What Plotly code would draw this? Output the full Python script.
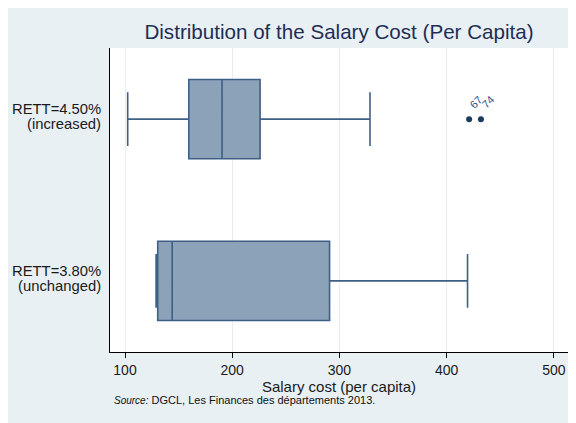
import plotly.graph_objects as go

# ---- data ----
categories = ["RETT=4.50%|(increased)", "RETT=3.80%|(unchanged)"]
lower_whisker = [102.5, 129.0]
q1_values = [159.5, 130.5]
median_values = [190.5, 144.0]
q3_values = [226.0, 290.8]
upper_whisker = [328.5, 419.5]
outlier_values = [421.0, 432.0]
outlier_labels = ["67", "74"]
outlier_category = categories[0]
x_tick_values = [100, 200, 300, 400, 500]

BOX_FILL = "#8ca2b8"
BOX_LINE = "#3e5f86"
NAVY = "#1e2e55"

# page body margin offsets the figure by 8px
OFF = 8
W, H = 576 - OFF, 423 - OFF
L, T = 110 - OFF, 48 - OFF
R = W - (568 - OFF)
B = H - (352 - OFF)
pw, ph = W - L - R, H - T - B

fig = go.Figure()
fig.add_trace(go.Box(
    y=categories,
    lowerfence=lower_whisker,
    q1=q1_values,
    median=median_values,
    q3=q3_values,
    upperfence=upper_whisker,
    orientation="h",
    fillcolor=BOX_FILL,
    line=dict(color=BOX_LINE, width=1.6),
    width=0.49,
    whiskerwidth=0.68,
    boxpoints=False,
    hoverinfo="skip",
    showlegend=False,
))
fig.add_trace(go.Scatter(
    x=outlier_values,
    y=[outlier_category] * len(outlier_values),
    mode="markers",
    marker=dict(color="#1c3a5e", size=6),
    showlegend=False,
    hoverinfo="skip",
))

# outlier labels
for xv, lab in zip(outlier_values, outlier_labels):
    fig.add_annotation(x=xv, y=outlier_category, text=lab, showarrow=False,
                       textangle=-45, xshift=7, yshift=17,
                       font=dict(family="Liberation Sans", size=11, color="#2c4f91"))

# category labels (right aligned two-line)
for cat in categories:
    l1, l2 = cat.split("|")
    fig.add_annotation(x=-7 / pw, xref="paper", y=cat, yref="y", text=l1,
                       showarrow=False, xanchor="right", yanchor="middle", yshift=10,
                       font=dict(family="Liberation Sans", size=14.8, color="#1a1a1a"))
    fig.add_annotation(x=-7 / pw, xref="paper", y=cat, yref="y", text=l2,
                       showarrow=False, xanchor="right", yanchor="middle", yshift=-5,
                       font=dict(family="Liberation Sans", size=14.8, color="#1a1a1a"))

# source note
fig.add_annotation(x=(112 - 110) / pw, xref="paper", y=(352 - 400) / ph, yref="paper",
                   text="<i><span style='font-size:10px'>Source:</span></i> DGCL, Les Finances des départements 2013.",
                   showarrow=False, xanchor="left", yanchor="middle",
                   font=dict(family="Liberation Sans", size=11, color="#111111"))

fig.update_layout(
    width=W, height=H,
    margin=dict(l=L, r=R, t=T, b=B),
    paper_bgcolor="#e9f0f3",
    plot_bgcolor="white",
    title=dict(text="Distribution of the Salary Cost (Per Capita)",
               x=(L + pw / 2) / W, xanchor="center", y=1 - (32 - OFF) / H, yanchor="middle",
               font=dict(family="Liberation Sans", size=20.6, color=NAVY)),
    font=dict(family="Liberation Sans", color="#1a1a1a"),
    xaxis=dict(
        range=[86.0, 513.2],
        tickvals=x_tick_values,
        ticks="outside", ticklen=5, tickcolor="black", tickwidth=1,
        showline=True, linecolor="black", linewidth=1.3,
        showgrid=True, gridcolor="#e6eef2", gridwidth=1,
        zeroline=False,
        tickfont=dict(size=14, color="#1a1a1a"),
        title=dict(text="Salary cost (per capita)", standoff=1,
                   font=dict(size=15, color="#1a1a1a")),
    ),
    yaxis=dict(
        categoryorder="array", categoryarray=categories,
        range=[1.44, -0.44],
        showticklabels=False, ticks="",
        showline=True, linecolor="black", linewidth=1.3,
        showgrid=False, zeroline=False,
    ),
)

fig.write_html("out.html")
